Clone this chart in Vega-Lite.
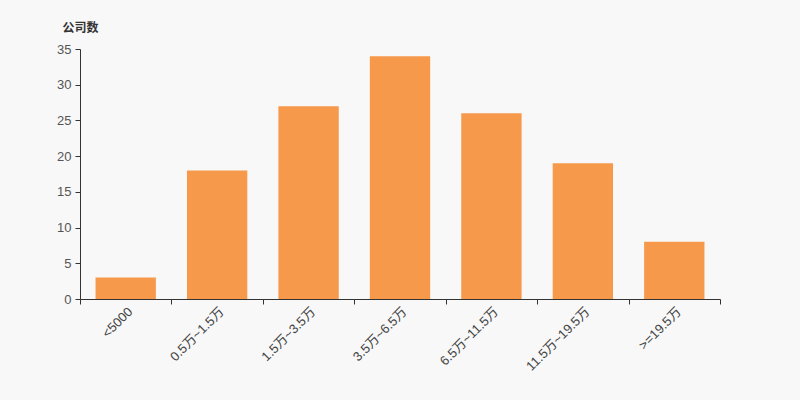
{
  "$schema": "https://vega.github.io/schema/vega-lite/v6.json",
  "width": 640,
  "height": 250,
  "autosize": "none",
  "padding": {"left": 80, "top": 49, "right": 80, "bottom": 101},
  "background": "#f8f8f8",
  "config": {
    "view": {"stroke": null},
    "font": "Liberation Sans, Noto Sans CJK SC, sans-serif"
  },
  "data": {
    "values": [
      {"range": "<5000", "count": 3},
      {"range": "0.5万~1.5万", "count": 18},
      {"range": "1.5万~3.5万", "count": 27},
      {"range": "3.5万~6.5万", "count": 34},
      {"range": "6.5万~11.5万", "count": 26},
      {"range": "11.5万~19.5万", "count": 19},
      {"range": ">=19.5万", "count": 8}
    ]
  },
  "mark": {"type": "bar", "color": "#f7994a", "width": {"band": 0.66}},
  "encoding": {
    "x": {
      "field": "range",
      "type": "nominal",
      "sort": null,
      "scale": {"paddingInner": 0, "paddingOuter": 0},
      "axis": {
        "title": null,
        "labelAngle": -45,
        "labelAlign": "right",
        "labelBaseline": "top",
        "labelPadding": 1,
        "labelFontSize": 13,
        "labelColor": "#444",
        "domainColor": "#333",
        "tickColor": "#333",
        "tickBand": "extent",
        "tickSize": 5
      }
    },
    "y": {
      "field": "count",
      "type": "quantitative",
      "scale": {"domain": [0, 35]},
      "axis": {
        "values": [0, 5, 10, 15, 20, 25, 30, 35],
        "grid": false,
        "title": "公司数",
        "titleAngle": 0,
        "titleAlign": "left",
        "titleBaseline": "middle",
        "titleX": -18,
        "titleY": -22,
        "titleFontSize": 12,
        "titleFontWeight": "bold",
        "titleColor": "#333",
        "labelFontSize": 13,
        "labelColor": "#555",
        "domainColor": "#333",
        "tickColor": "#333",
        "tickSize": 5,
        "labelPadding": 4
      }
    }
  }
}
